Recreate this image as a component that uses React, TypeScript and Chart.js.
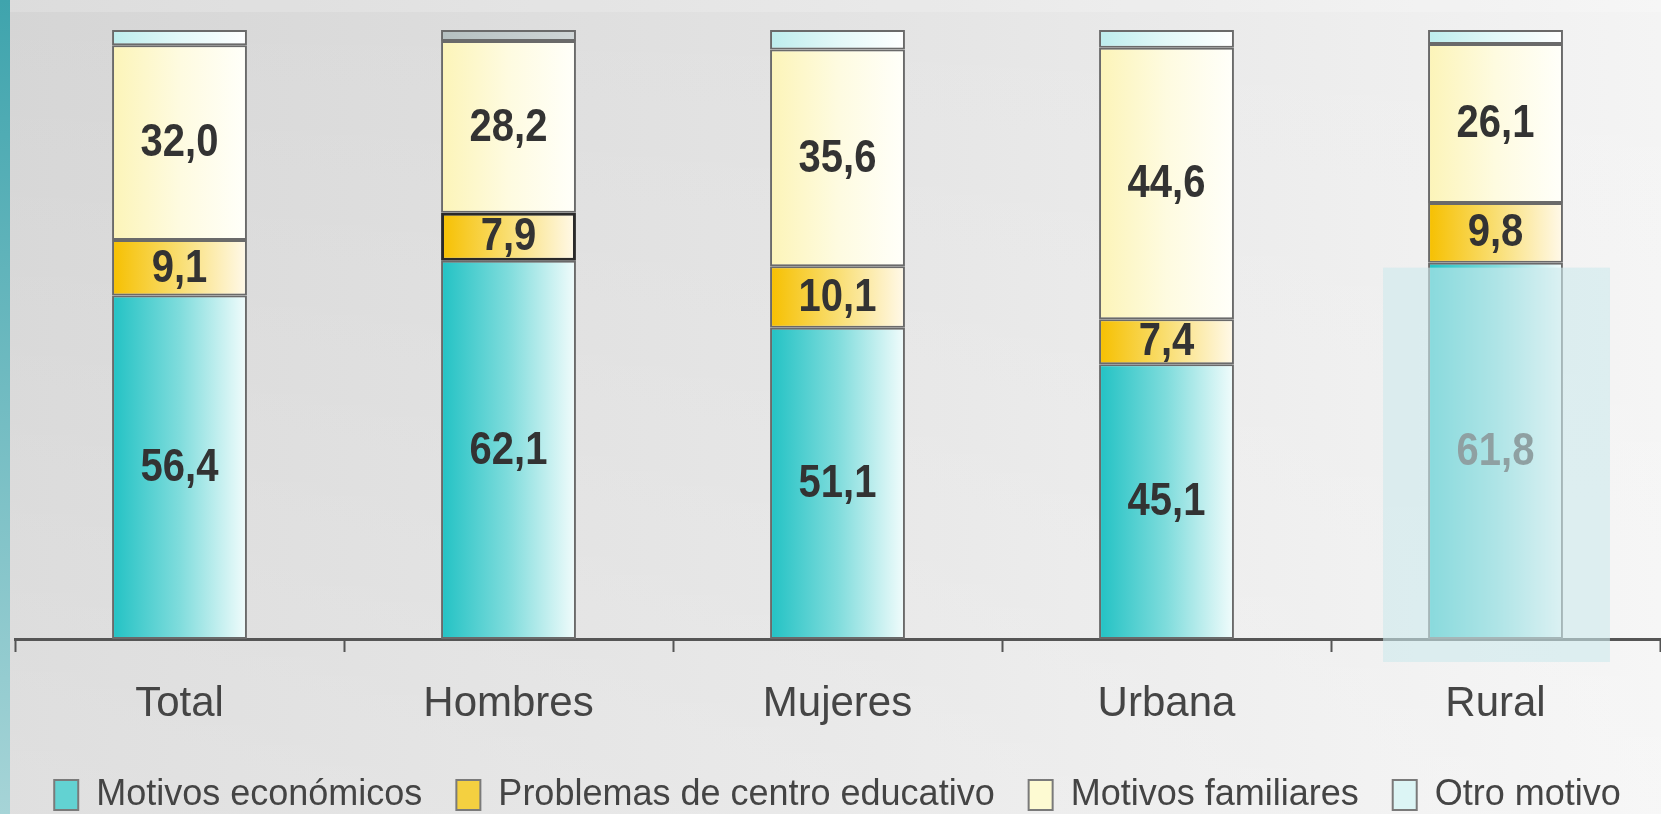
import React, { useEffect, useRef } from "react";
import { Chart, registerables } from "chart.js";

Chart.register(...registerables);

// ---- data ----
const categories = ["Total", "Hombres", "Mujeres", "Urbana", "Rural"];
const seriesNames = [
  "Motivos económicos",
  "Problemas de centro educativo",
  "Motivos familiares",
  "Otro motivo",
];
const economicos = [56.4, 62.1, 51.1, 45.1, 61.8];
const problemas = [9.1, 7.9, 10.1, 7.4, 9.8];
const familiares = [32.0, 28.2, 35.6, 44.6, 26.1];
const otro = [2.5, 1.8, 3.2, 2.9, 2.3];

// ---- styles ----
const FONT = '"Liberation Sans", Arial, Helvetica, sans-serif';
const BAR_PCT = 0.41;
const ecoStops = ["#22c2c4", "#7fdcdc", "#f2fcfc"];
const probStops = ["#f6c000", "#f9de72", "#fff9ea"];
const famStops = ["#fcf4b8", "#fefbe0", "#fffffa"];
const otroStops = ["#bdeded", "#e2f8f8", "#ffffff"];
const otroGrayStops = ["#b4bfc0", "#c2cbcc", "#d0d6d7"];
const legendFill = ["#62d2d2", "#f4d040", "#fdfad2", "#dcf5f5"];

function barGradient(stops: string[], altStops?: string[], altIndex?: number) {
  return (c: any) => {
    const chart = c.chart;
    const xs = chart.scales ? chart.scales.x : null;
    const st = altStops && c.dataIndex === altIndex ? altStops : stops;
    if (!xs || !chart.chartArea || c.dataIndex === undefined) return st[1];
    const cx = xs.getPixelForValue(c.dataIndex);
    const half = ((xs.width / categories.length) * BAR_PCT) / 2;
    const g = chart.ctx.createLinearGradient(cx - half, 0, cx + half, 0);
    st.forEach((s, k) => g.addColorStop(k / (st.length - 1), s));
    return g;
  };
}

const fmt = (v: number) => v.toFixed(1).replace(".", ",");

const backgroundPlugin = {
  id: "bgPlugin",
  beforeDraw(chart: any) {
    const { ctx, width, height } = chart;
    ctx.save();
    const g = ctx.createLinearGradient(0, 0, width, 0);
    g.addColorStop(0, "#d5d5d5");
    g.addColorStop(0.5, "#e3e3e3");
    g.addColorStop(1, "#f4f4f4");
    ctx.fillStyle = g;
    ctx.fillRect(0, 0, width, height);
    const v = ctx.createLinearGradient(0, 0, 0, height);
    v.addColorStop(0, "rgba(255,255,255,0)");
    v.addColorStop(1, "rgba(255,255,255,0.25)");
    ctx.fillStyle = v;
    ctx.fillRect(0, 0, width, height);
    // top band
    ctx.fillStyle = "rgba(255,255,255,0.18)";
    ctx.fillRect(0, 0, width, 12);
    // left teal strip
    const s = ctx.createLinearGradient(0, 0, 0, height);
    s.addColorStop(0, "#3fa4ad");
    s.addColorStop(1, "#a6d4d7");
    ctx.fillStyle = s;
    ctx.fillRect(0, 0, 10, height);
    ctx.restore();
  },
};

const valueLabelPlugin = {
  id: "valueLabels",
  afterDatasetsDraw(chart: any) {
    const ctx = chart.ctx;
    ctx.save();
    ctx.font = `bold 40px ${FONT}`;
    ctx.fillStyle = "#333333";
    ctx.textAlign = "center";
    ctx.textBaseline = "middle";
    chart.data.datasets.forEach((ds: any, di: number) => {
      if (di === 3) return;
      const meta = chart.getDatasetMeta(di);
      meta.data.forEach((el: any, i: number) => {
        const p = el.getProps(["x", "y", "base"], true);
        const cy = (p.y + p.base) / 2;
        ctx.save();
        ctx.translate(p.x, cy + 1);
        ctx.scale(1, 1.15);
        ctx.fillText(fmt(ds.data[i]), 0, 0);
        ctx.restore();
      });
    });
    ctx.restore();
  },
};

const HIGHLIGHT_INDEX = 4;
const highlightPlugin = {
  id: "highlight",
  afterDraw(chart: any) {
    const el = chart.getDatasetMeta(0).data[HIGHLIGHT_INDEX];
    if (!el) return;
    const p = el.getProps(["x", "y", "base", "width"], true);
    const ctx = chart.ctx;
    ctx.save();
    ctx.fillStyle = "rgba(205,233,236,0.6)";
    ctx.fillRect(p.x - p.width / 2 - 45, p.y + 5, p.width + 92, p.base - p.y + 18);
    ctx.restore();
  },
};

export default function App() {
  const canvasRef = useRef<HTMLCanvasElement | null>(null);

  useEffect(() => {
    if (!canvasRef.current) return;
    const border = "#6a6a6a";
    const chart = new Chart(canvasRef.current, {
      type: "bar",
      data: {
        labels: categories,
        datasets: [
          { label: seriesNames[0], data: economicos, backgroundColor: barGradient(ecoStops) as any },
          {
            label: seriesNames[1],
            data: problemas,
            backgroundColor: barGradient(probStops) as any,
            borderColor: [border, "#2a2a2a", border, border, border],
            borderWidth: [2, 3, 2, 2, 2],
          },
          { label: seriesNames[2], data: familiares, backgroundColor: barGradient(famStops) as any },
          {
            label: seriesNames[3],
            data: otro,
            backgroundColor: barGradient(otroStops, otroGrayStops, 1) as any,
          },
        ].map((d: any) => ({
          borderColor: border,
          borderWidth: 2,
          borderSkipped: false,
          categoryPercentage: 1,
          barPercentage: BAR_PCT,
          ...d,
        })),
      },
      options: {
        animation: false,
        responsive: true,
        maintainAspectRatio: false,
        layout: { padding: { top: 30, left: 15, right: 1, bottom: -9 } },
        plugins: {
          tooltip: { enabled: false },
          legend: {
            position: "bottom",
            labels: {
              font: { size: 36, family: FONT },
              color: "#444444",
              boxWidth: 24,
              boxHeight: 30,
              padding: 34,
              generateLabels: (ch: any) =>
                ch.data.datasets.map((ds: any, i: number) => ({
                  text: ds.label,
                  fillStyle: legendFill[i],
                  strokeStyle: "#7a7a7a",
                  lineWidth: 2,
                  hidden: false,
                  datasetIndex: i,
                  fontColor: "#444444",
                })),
            },
          },
        },
        scales: {
          x: {
            stacked: true,
            offset: true,
            afterFit: (scale: any) => {
              scale.height = 104;
            },
            grid: {
              display: true,
              drawOnChartArea: false,
              drawTicks: true,
              tickLength: 13,
              tickWidth: 2,
              tickColor: "#555555",
              offset: true,
            },
            border: { display: true, color: "#555555", width: 3 },
            ticks: { font: { size: 42, family: FONT }, color: "#454545", padding: 27 },
          },
          y: { stacked: true, display: false, min: 0, max: 100 },
        },
      },
      plugins: [backgroundPlugin, valueLabelPlugin, highlightPlugin],
    });
    return () => chart.destroy();
  }, []);

  return (
    <div style={{ position: "fixed", left: 0, top: 0, width: 1661, height: 814 }}>
      <canvas ref={canvasRef} />
    </div>
  );
}
